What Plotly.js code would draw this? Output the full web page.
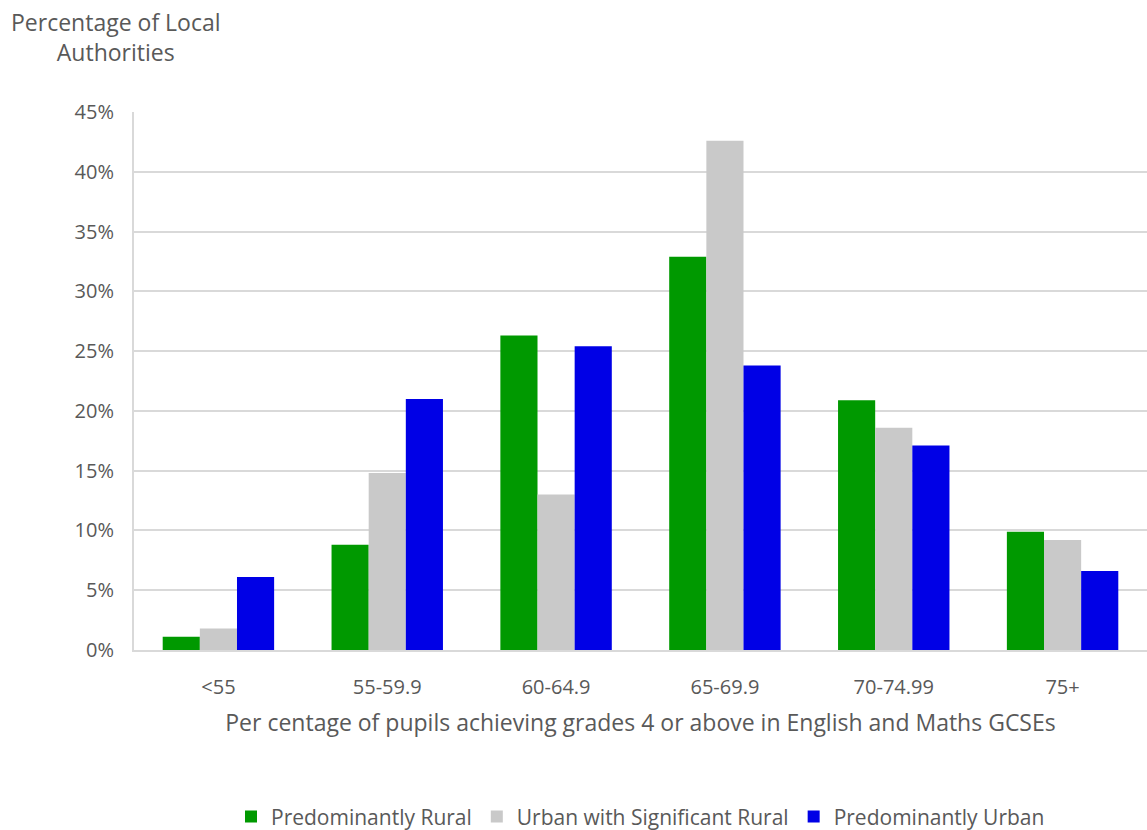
<!DOCTYPE html>
<html><head><meta charset="utf-8">
<script src="https://cdn.plot.ly/plotly-3.0.1.min.js"></script>
<style>html,body{margin:0;padding:0;background:#fff}</style>
</head><body><div id="chart" style="width:1147px;height:830px"></div>
<script>
const categories = ["<55","55-59.9","60-64.9","65-69.9","70-74.99","75+"];
const rural = [1.1, 8.8, 26.3, 32.9, 20.9, 9.9];
const urbanSigRural = [1.8, 14.8, 13.0, 42.6, 18.6, 9.2];
const urban = [6.1, 21.0, 25.4, 23.8, 17.1, 6.6];
const seriesNames = ["Predominantly Rural","Urban with Significant Rural","Predominantly Urban"];
const colors = ["#009900","#C9C9C9","#0000E6"];
const vals = [rural, urbanSigRural, urban];
const font = "'Open Sans', 'Liberation Sans', sans-serif";
const traces = vals.map((v,i)=>({type:'bar', name:seriesNames[i], x:categories, y:v.map(d=>d/100),
  marker:{color:colors[i], line:{width:0}}, hoverinfo:'none'}));
const layout = {
  width:1147, height:830,
  margin:{l:134, r:0, t:112, b:180, autoexpand:false},
  paper_bgcolor:'#fff', plot_bgcolor:'#fff',
  barmode:'group', bargap:0.34, bargroupgap:0,
  font:{family:font, color:'#595959', size:20},
  xaxis:{type:'category', showgrid:false, showline:true, linecolor:'#D9D9D9', linewidth:2, automargin:false,
    ticks:'', tickfont:{size:20, color:'#595959'}, ticklabelstandoff:18,
    title:{text:'Per centage of pupils achieving grades 4 or above in English and Maths GCSEs', font:{size:23,color:'#595959'}, standoff:16}},
  yaxis:{range:[0,0.45], dtick:0.05, tickformat:'.0%', showgrid:true, gridcolor:'#D9D9D9', gridwidth:2, automargin:false,
    showline:true, linecolor:'#D9D9D9', linewidth:2, zeroline:false, ticks:'', ticklen:0,
    ticklabelstandoff:14, tickfont:{size:20,color:'#595959'}},
  legend:{orientation:'h', x:0.5, xref:'paper', xanchor:'center', y:-0.31, yanchor:'middle',
    font:{size:21,color:'#595959'}, itemwidth:30, traceorder:'normal'},
  annotations:[{text:'Percentage of Local<br>Authorities', xref:'paper', yref:'paper', x:0, xanchor:'center', xshift:-18, y:1.0, yanchor:'bottom', yshift:42,
    showarrow:false, align:'center', font:{size:23,color:'#595959'}}]
};
Plotly.newPlot('chart', traces, layout, {displayModeBar:false, staticPlot:true});
</script></body></html>
